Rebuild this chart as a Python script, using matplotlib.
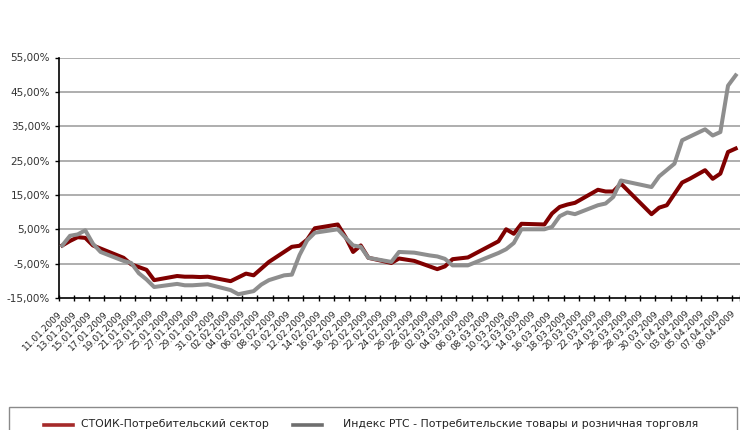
import matplotlib
matplotlib.use("Agg")
import matplotlib.pyplot as plt
import matplotlib.transforms as mtransforms
import pandas as pd
from matplotlib.lines import Line2D
from matplotlib.patches import Rectangle
from matplotlib.ticker import FixedLocator, FuncFormatter

# ---------------- data ----------------
start_date = "11.01.2009"
end_date = "09.04.2009"

stoik_dates = ["11.01.2009", "12.01.2009", "13.01.2009", "14.01.2009", "15.01.2009", "16.01.2009",
               "19.01.2009", "20.01.2009", "21.01.2009", "22.01.2009", "23.01.2009",
               "26.01.2009", "27.01.2009", "28.01.2009", "29.01.2009", "30.01.2009",
               "02.02.2009", "04.02.2009", "05.02.2009", "07.02.2009", "10.02.2009",
               "11.02.2009", "12.02.2009", "13.02.2009", "16.02.2009", "17.02.2009",
               "18.02.2009", "19.02.2009", "20.02.2009", "23.02.2009", "24.02.2009",
               "26.02.2009", "01.03.2009", "02.03.2009", "03.03.2009", "05.03.2009",
               "09.03.2009", "10.03.2009", "11.03.2009", "12.03.2009", "15.03.2009",
               "16.03.2009", "17.03.2009", "18.03.2009", "19.03.2009", "22.03.2009",
               "23.03.2009", "24.03.2009", "25.03.2009", "29.03.2009", "30.03.2009",
               "31.03.2009", "02.04.2009", "03.04.2009", "05.04.2009", "06.04.2009",
               "07.04.2009", "08.04.2009", "09.04.2009"]
stoik_values = [0.3, 1.6, 2.7, 2.5, 0.3, -0.6,
                -3.3, -5.2, -6.0, -6.8, -9.8,
                -8.6, -8.8, -8.8, -8.9, -8.8,
                -10.1, -7.9, -8.4, -4.5, -0.1,
                0.2, 2.0, 5.3, 6.4, 2.8,
                -1.6, 0.3, -3.3, -4.8, -3.5,
                -4.2, -6.6, -5.8, -3.7, -3.2,
                1.5, 5.0, 3.7, 6.6, 6.4,
                9.6, 11.5, 12.2, 12.7, 16.5,
                16.0, 16.0, 18.3, 9.4, 11.3,
                12.0, 18.6, 19.7, 22.2, 19.7,
                21.2, 27.5, 28.5]

rts_dates = ["11.01.2009", "12.01.2009", "13.01.2009", "14.01.2009", "15.01.2009", "16.01.2009",
             "19.01.2009", "20.01.2009", "21.01.2009", "22.01.2009", "23.01.2009",
             "26.01.2009", "27.01.2009", "28.01.2009", "30.01.2009",
             "02.02.2009", "03.02.2009", "05.02.2009", "06.02.2009", "07.02.2009",
             "09.02.2009", "10.02.2009", "11.02.2009", "12.02.2009", "13.02.2009",
             "16.02.2009", "17.02.2009", "18.02.2009", "19.02.2009", "20.02.2009",
             "23.02.2009", "24.02.2009", "26.02.2009", "28.02.2009", "01.03.2009",
             "02.03.2009", "03.03.2009", "05.03.2009", "09.03.2009", "10.03.2009",
             "11.03.2009", "12.03.2009", "15.03.2009", "16.03.2009", "17.03.2009",
             "18.03.2009", "19.03.2009", "22.03.2009", "23.03.2009", "24.03.2009",
             "25.03.2009", "29.03.2009", "30.03.2009", "01.04.2009", "02.04.2009",
             "05.04.2009", "06.04.2009", "07.04.2009", "08.04.2009", "09.04.2009"]
rts_values = [0.3, 3.1, 3.5, 4.7, 0.8, -1.6,
              -4.2, -4.8, -7.8, -9.6, -11.8,
              -10.9, -11.3, -11.3, -11.0,
              -12.7, -13.9, -13.0, -11.1, -9.8,
              -8.4, -8.2, -2.5, 1.8, 4.0,
              5.0, 2.6, 0.3, -0.1, -3.3,
              -4.5, -1.6, -1.8, -2.6, -2.9,
              -3.6, -5.5, -5.5, -1.9, -0.8,
              1.0, 5.0, 5.0, 5.7, 8.8,
              9.9, 9.4, 12.0, 12.5, 14.4,
              19.2, 17.3, 20.4, 24.1, 30.9,
              34.1, 32.3, 33.3, 46.8, 49.8]

y_ticks = [-15, -5, 5, 15, 25, 35, 45, 55]
series_names = ["СТОИК-Потребительский сектор",
                "Индекс РТС - Потребительские товары и розничная торговля"]
series_colors = ["#800000", "#8e8e8e"]
legend_colors = ["#a52a2a", "#6e6e6e"]

# ---------------- helpers ----------------
t0 = pd.to_datetime(start_date, format="%d.%m.%Y")


def to_days(ds):
    return list((pd.to_datetime(pd.Series(ds), format="%d.%m.%Y") - t0).dt.days)


label_dates = pd.date_range(t0, pd.to_datetime(end_date, format="%d.%m.%Y"), freq="2D")
label_pos = [(d - t0).days for d in label_dates]
label_txt = [d.strftime("%d.%m.%Y") for d in label_dates]
n_days = (pd.to_datetime(end_date, format="%d.%m.%Y") - t0).days

plt.rcParams["font.family"] = ["DejaVu Sans"]

W, H = 740, 430
fig = plt.figure(figsize=(W / 100, H / 100), dpi=100)
fig.patch.set_facecolor("white")

left_px, right_px, top_px, bot_px = 58.5, 739.5, 57.5, 298
ax = fig.add_axes([left_px / W, 1 - bot_px / H, (right_px - left_px) / W, (bot_px - top_px) / H])

ax.set_xlim(-0.5, n_days + 0.5)
ax.set_ylim(-15, 55)

# gridlines
for yv in y_ticks[1:]:
    ax.axhline(yv, color="#a8a8a8", lw=1.3, zorder=1)

ax.plot(to_days(stoik_dates), stoik_values, color=series_colors[0], lw=2.9,
        solid_joinstyle="round", zorder=3)
ax.plot(to_days(rts_dates), rts_values, color=series_colors[1], lw=2.9,
        solid_joinstyle="round", zorder=4)

for s in ["top", "right"]:
    ax.spines[s].set_visible(False)
for s in ["left", "bottom"]:
    ax.spines[s].set_color("black")
    ax.spines[s].set_linewidth(1.2)

ax.yaxis.set_major_locator(FixedLocator(y_ticks))
ax.yaxis.set_major_formatter(FuncFormatter(lambda v, p: f"{v:.2f}%".replace(".", ",")))
ax.tick_params(axis="y", direction="out", length=3, width=1, pad=3,
               labelsize=7.5, labelcolor="#333333")

ax.xaxis.set_major_locator(FixedLocator(label_pos))
ax.set_xticklabels(label_txt)
ax.xaxis.set_minor_locator(FixedLocator([p - 0.5 for p in label_pos] + [n_days + 0.5]))
ax.tick_params(axis="x", which="major", length=0, pad=8, labelsize=6.5, labelcolor="#222222")
ax.tick_params(axis="x", which="minor", direction="inout", length=5, width=1)
shift = mtransforms.ScaledTranslation(-5 / 100, 0, fig.dpi_scale_trans)
for lbl in ax.get_xticklabels():
    lbl.set_rotation(45)
    lbl.set_ha("right")
    lbl.set_va("top")
    lbl.set_rotation_mode("anchor")
    lbl.set_transform(lbl.get_transform() + shift)

# legend box (partly below figure edge, as in the original)
fig.add_artist(Rectangle((9 / W, -0.05), (737 - 9) / W, 0.05 + (1 - 407 / H),
                         transform=fig.transFigure, fill=False,
                         edgecolor="#8a8a8a", lw=1.0))
leg_y = 1 - 425 / H
handle_x = [(44, 73), (293, 322)]
text_x = [81, 343]
for i in range(2):
    fig.add_artist(Line2D([handle_x[i][0] / W, handle_x[i][1] / W], [leg_y, leg_y],
                          transform=fig.transFigure, color=legend_colors[i], lw=2.6))
    fig.text(text_x[i] / W, leg_y + 0.002, series_names[i], ha="left", va="center",
             fontsize=7.8, color="#222222")

fig.savefig("out.png", dpi=100, facecolor="white")
